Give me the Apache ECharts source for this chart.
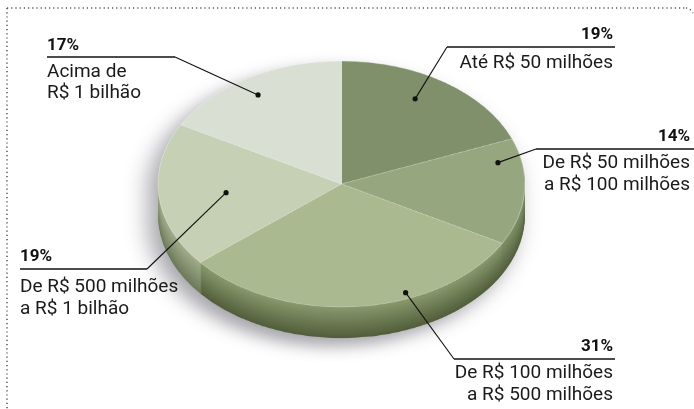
<!DOCTYPE html>
<html><head><meta charset="utf-8">
<script src="https://cdn.jsdelivr.net/npm/echarts/dist/echarts.min.js"></script>
<style>
html,body{margin:0;padding:0;background:#fff;width:694px;height:409px;overflow:hidden}
#pie{position:absolute;left:0;top:0;width:694px;transform-origin:0 0;filter:drop-shadow(-9px 12px 12px rgba(50,50,65,0.45));}
#lab{position:absolute;left:0;top:0;width:694px;height:409px;}
</style></head><body>
<div id="pie"></div><div id="lab"></div>
<script>
// ---- data ----
const categories = ['Até R$ 50 milhões', 'De R$ 50 milhões\na R$ 100 milhões', 'De R$ 100 milhões\na R$ 500 milhões', 'De R$ 500 milhões\na R$ 1 bilhão', 'Acima de\nR$ 1 bilhão'];
const values = [19, 14, 31, 19, 17];
const percentLabels = ['19%', '14%', '31%', '19%', '17%'];

// ---- styles / layout ----
const topColors = ['#80906b', '#96a67e', '#aab990', '#c6d0b5', '#d9e0d3'];
const sideTop = ['#75855e', '#82936a', '#8a9b6f', '#a3b08e', '#b3bcaa'];
const sideBottom = ['#4c593a', '#53613d', '#535f3c', '#6e7b5b', '#7e8776'];
const G = { cx: 341.5, cy: 184, rx: 183.5, ry: 123, depth: 31 };
const k = G.ry / G.rx;
const FONT = 'Roboto, "Open Sans", sans-serif';

const labelLayout = [
  { align: 'right', x: 613, pctY: 35, ulY: 47, ulX0: 447, ulX1: 615, lines: [63], from: 0, t: 0.44, r: 0.80 },
  { align: 'right', x: 690, pctY: 137, ulY: 149, ulX0: 536, ulX1: 694, lines: [163, 185], from: 0, t: 0.20, r: 0.87 },
  { align: 'right', x: 613, pctY: 347, ulY: 359, ulX0: 454, ulX1: 615, lines: [373, 395], from: 0, t: 0.355, r: 0.95 },
  { align: 'left', x: 20, pctY: 257, ulY: 269, ulX0: 20, ulX1: 147, lines: [287, 309], from: 1, t: 0.485, r: 0.633 },
  { align: 'left', x: 47, pctY: 46, ulY: 57, ulX0: 47, ulX1: 175, lines: [72, 93], from: 1, t: 0.475, r: 0.855 }
];

function mix(a, b, f) {
  const pa = [1, 3, 5].map(i => parseInt(a.substr(i, 2), 16));
  const pb = [1, 3, 5].map(i => parseInt(b.substr(i, 2), 16));
  return 'rgb(' + pa.map((v, i) => Math.round(v + (pb[i] - v) * f)).join(',') + ')';
}

// ---- pie (drawn round, squashed with CSS to look tilted) ----
const pieDiv = document.getElementById('pie');
const chartH = 409 / k;
pieDiv.style.height = chartH + 'px';
pieDiv.style.transform = 'scaleY(' + k + ')';
const pieChart = echarts.init(pieDiv, null, { renderer: 'canvas' });
const cyC = G.cy / k;
const dC = G.depth / k;
const total = values.reduce((a, b) => a + b, 0);

const base = {
  type: 'pie', radius: G.rx, startAngle: 90, clockwise: true, silent: true,
  animation: false, label: { show: false }, labelLine: { show: false },
  emphasis: { disabled: true }
};
const series = [];
// side wall layers
const N = 16;
for (let i = N; i >= 1; i--) {
  const f = i / N;
  series.push(Object.assign({}, base, {
    center: [G.cx, cyC + dC * f],
    data: values.map((v, j) => ({ value: v, name: categories[j], itemStyle: { color: mix(sideTop[j], sideBottom[j], f) } }))
  }));
}
// top surface
series.push(Object.assign({}, base, {
  center: [G.cx, cyC],
  data: values.map((v, j) => ({ value: v, name: categories[j], itemStyle: { color: topColors[j], borderColor: 'rgba(255,255,255,0.35)', borderWidth: 1 } }))
}));
pieChart.setOption({ backgroundColor: 'transparent', series: series });

// ---- labels / leaders ----
const labChart = echarts.init(document.getElementById('lab'));
const els = [];
let cum = 0;
values.forEach((v, i) => {
  const a0 = cum / total * 360; cum += v;
  const a1 = cum / total * 360;
  const L = labelLayout[i];
  const th = (a0 + L.t * (a1 - a0)) * Math.PI / 180;
  const px = G.cx + L.r * G.rx * Math.sin(th);
  const py = G.cy - L.r * G.ry * Math.cos(th);
  const sx = L.from === 0 ? L.ulX0 : L.ulX1;
  els.push({ type: 'line', shape: { x1: L.ulX0, y1: L.ulY, x2: L.ulX1, y2: L.ulY }, style: { stroke: '#111', lineWidth: 1.3 } });
  els.push({ type: 'line', shape: { x1: sx, y1: L.ulY, x2: px, y2: py }, style: { stroke: '#111', lineWidth: 1.1 } });
  els.push({ type: 'circle', shape: { cx: px, cy: py, r: 2.6 }, style: { fill: '#111' } });
  els.push({ type: 'text', x: L.x, y: L.pctY, style: { text: percentLabels[i], font: 'bold 17px ' + FONT, fill: '#111', align: L.align, verticalAlign: 'middle', textAlign: L.align, textVerticalAlign: 'middle' } });
  categories[i].split('\n').forEach((line, li) => {
    els.push({ type: 'text', x: L.x, y: L.lines[li], style: { text: line, font: '19px ' + FONT, fill: '#1a1a1a', align: L.align, verticalAlign: 'middle', textAlign: L.align, textVerticalAlign: 'middle' } });
  });
});
// dotted frame
const dotStyle = { stroke: '#555', lineWidth: 1.5, lineDash: [1.2, 3] };
els.push({ type: 'line', shape: { x1: 7, y1: 8, x2: 686, y2: 8 }, style: dotStyle });
els.push({ type: 'line', shape: { x1: 7, y1: 8, x2: 7, y2: 409 }, style: dotStyle });
els.push({ type: 'bezierCurve', shape: { x1: 686, y1: 8, cpx1: 690, cpy1: 8, x2: 693, y2: 13 }, style: Object.assign({ fill: null }, dotStyle) });
labChart.setOption({ backgroundColor: 'transparent', animation: false, graphic: { elements: els } });
</script>
</body></html>
